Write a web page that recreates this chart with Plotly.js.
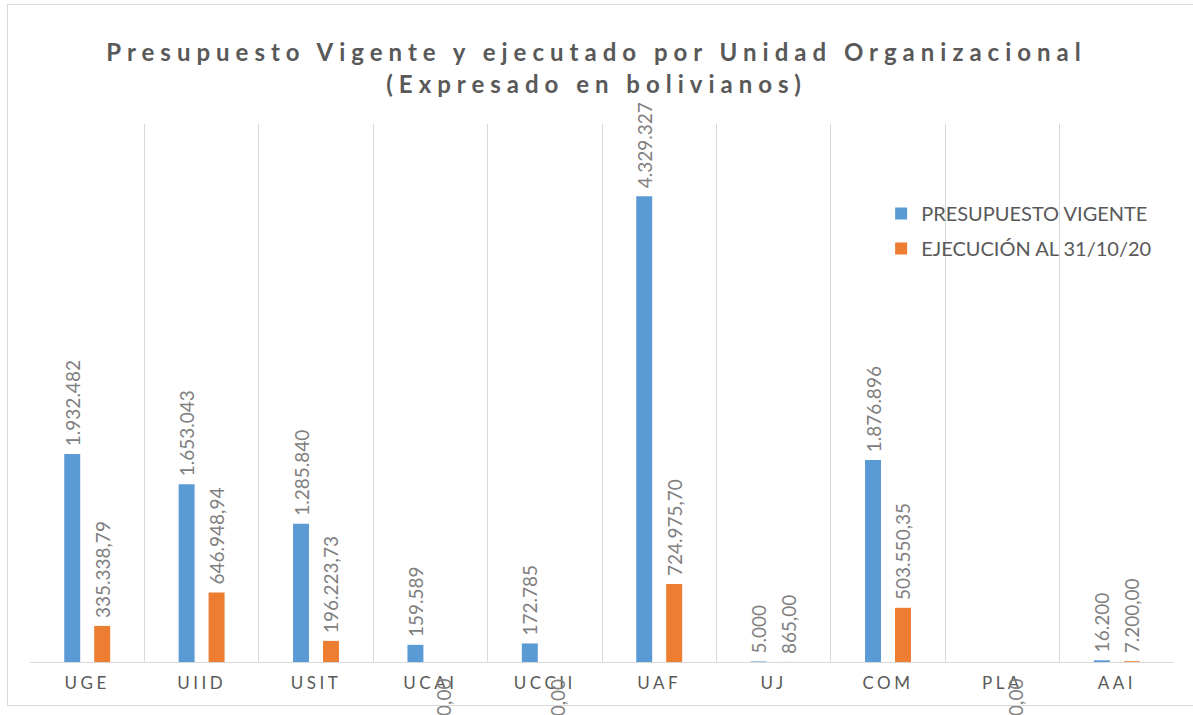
<!DOCTYPE html>
<html>
<head>
<meta charset="utf-8">
<script src="https://cdn.plot.ly/plotly-3.0.1.min.js"></script>
<style>
  html, body { margin: 0; padding: 0; background: #fff; }
  #wrap { position: relative; width: 1193px; height: 715px; }
  #chart { width: 1193px; height: 715px; }
  #frame { position: absolute; left: 7px; top: 4px; width: 1200px; height: 702px;
           border: 1px solid #d9d9d9; pointer-events: none; box-sizing: border-box; }
  #chart .gtitle { letter-spacing: 6px; }
  #chart .xtick text { letter-spacing: 3.5px; }
</style>
</head>
<body>
<div id="wrap">
  <div id="chart"></div>
  <div id="frame"></div>
</div>
<script>
const categories = ["UGE", "UIID", "USIT", "UCAI", "UCCII", "UAF", "UJ", "COM", "PLA", "AAI"];
const presupuestoVigente = [1932482, 1653043, 1285840, 159589, 172785, 4329327, 5000, 1876896, 0, 16200];
const ejecucion = [335338.79, 646948.94, 196223.73, 0, 0, 724975.70, 865.00, 503550.35, 0, 7200.00];
const seriesNames = ["PRESUPUESTO VIGENTE", "EJECUCIÓN AL 31/10/20"];
const titleText = "Presupuesto Vigente y ejecutado por Unidad Organizacional<br>(Expresado en bolivianos)";

function fmt(v, dec) {
  const parts = v.toFixed(dec).split(".");
  const intPart = parts[0].replace(/\B(?=(\d{3})+(?!\d))/g, ".");
  return dec > 0 ? intPart + "," + parts[1] : intPart;
}

const labelFont = { family: "Lato, 'Open Sans', sans-serif", size: 19, color: "#808080" };

const traceA = {
  type: "bar", name: seriesNames[0], x: categories, y: presupuestoVigente,
  legendgroup: "a",
  marker: { color: "#5b9bd5" },
  text: presupuestoVigente.map(v => v === 0 ? "" : "\u00a0" + fmt(v, 0)),
  textposition: "outside", textangle: -90, constraintext: "none", cliponaxis: false,
  textfont: labelFont, hoverinfo: "x+y"
};
const traceB = {
  type: "bar", name: seriesNames[1], x: categories, y: ejecucion,
  legendgroup: "b",
  marker: { color: "#ed7d31" },
  text: ejecucion.map(v => v === 0 ? "" : "\u00a0" + fmt(v, 2)),
  textposition: "outside", textangle: -90, constraintext: "none", cliponaxis: false,
  textfont: labelFont, hoverinfo: "x+y"
};

const annotations = [];
ejecucion.forEach((v, i) => {
  if (v === 0) {
    annotations.push({
      x: categories[i], y: 0, xref: "x", yref: "y", text: fmt(v, 2),
      showarrow: false, textangle: -90, xshift: 13, yshift: -15, yanchor: "top",
      font: labelFont
    });
  }
});

const layout = {
  width: 1193, height: 715,
  margin: { l: 30, r: 19, t: 124, b: 53 },
  paper_bgcolor: "#ffffff", plot_bgcolor: "#ffffff",
  title: {
    text: titleText,
    font: { family: "Lato, 'Open Sans', sans-serif", size: 24, color: "#595959", weight: "bold" },
    x: 0.5, xanchor: "center", y: 0.914, yanchor: "top", yref: "container"
  },
  barmode: "group", bargap: 0.476, bargroupgap: 0.467,
  xaxis: {
    type: "category", tickson: "boundaries", showgrid: true, gridcolor: "#d9d9d9", gridwidth: 1,
    showline: true, linecolor: "#d9d9d9", linewidth: 1, ticks: "", ticklabelstandoff: 6,
    tickfont: { family: "Lato, 'Open Sans', sans-serif", size: 17, color: "#595959" },
    fixedrange: true
  },
  yaxis: {
    range: [0, 5000000], visible: false, showgrid: false, zeroline: false, fixedrange: true
  },
  showlegend: true,
  legend: {
    x: 0.744, y: 0.87, xanchor: "left", yanchor: "top",
    bgcolor: "rgba(0,0,0,0)", borderwidth: 0,
    font: { family: "Lato, 'Open Sans', sans-serif", size: 20, color: "#595959" },
    itemwidth: 30, tracegroupgap: 6, traceorder: "grouped"
  },
  annotations: annotations
};

Plotly.newPlot("chart", [traceA, traceB], layout, { displayModeBar: false, staticPlot: true });
</script>
</body>
</html>
